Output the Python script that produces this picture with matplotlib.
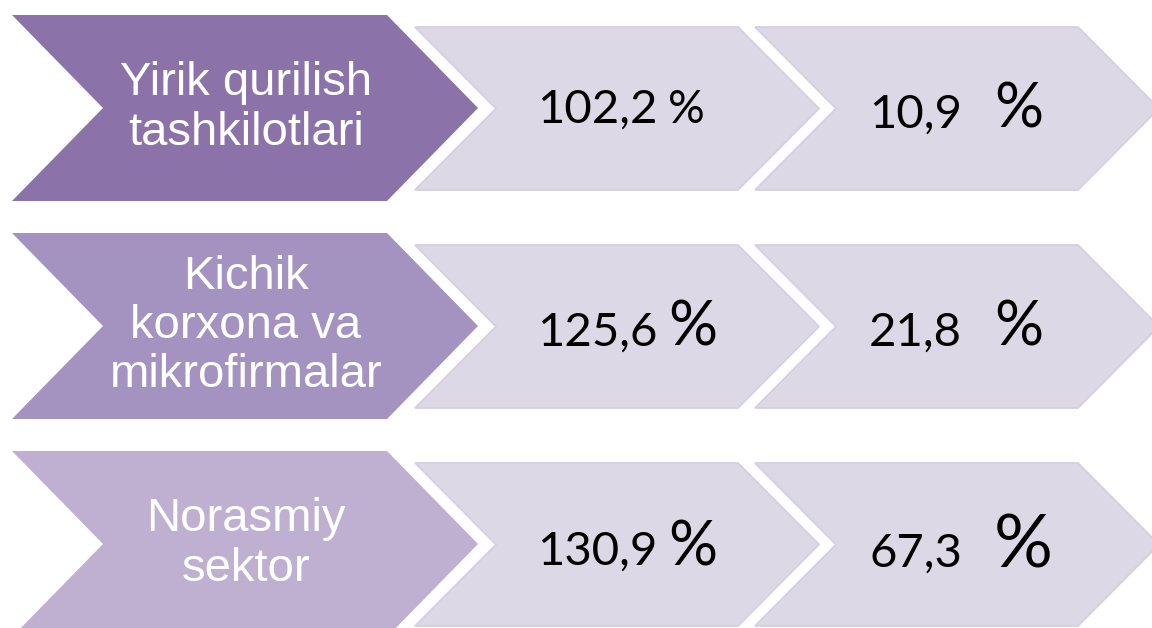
'''
Chevron diagram: construction growth indices by sector
'''
import matplotlib
matplotlib.use("Agg")
import matplotlib.pyplot as plt
from matplotlib.patches import Polygon

# ---- data ----
categories = ["Yirik qurilish\ntashkilotlari",
              "Kichik\nkorxona va\nmikrofirmalar",
              "Norasmiy\nsektor"]
growth_index = [102.2, 125.6, 130.9]
share = [10.9, 21.8, 67.3]

# ---- style ----
head_colors = ["#8B73AA", "#A492C0", "#BFB0D2"]
light_fill = "#DCD8E6"
light_edge = "#D5D0E1"
pct_size = [[33, 44], [44, 44], [44, 53]]   # size of the % sign in each cell
num_size = 34


def chevron(x0, top, w, h, d):
    mid = top + h / 2
    return [(x0, top), (x0 + w, top), (x0 + w + d, mid),
            (x0 + w, top + h), (x0, top + h), (x0 + d, mid)]


def fmt(v):
    return ("%.1f" % v).replace(".", ",")


def main():
    fig = plt.figure(figsize=(11.52, 6.28), dpi=100)
    ax = fig.add_axes([0, 0, 1, 1])
    ax.set_xlim(0, 1152)
    ax.set_ylim(628, 0)
    ax.axis("off")

    row_step = 218
    num_right = [658, 962]
    pct_left = [668, 994]
    baseline_off = [[108, 113], [113, 113], [114, 116]]

    for i, label in enumerate(categories):
        top = 15 + row_step * i
        ax.add_patch(Polygon(chevron(12, top, 375, 186, 91), closed=True,
                             facecolor=head_colors[i], edgecolor="none"))
        ax.text(246, top + 93, label, ha="center", va="center", color="white",
                fontsize=34, family="Liberation Sans", linespacing=1.16)

        vals = [growth_index[i], share[i]]
        for j in range(2):
            x0 = 415 + 340 * j
            ax.add_patch(Polygon(chevron(x0, top + 12, 323, 163, 81), closed=True,
                                 facecolor=light_fill, edgecolor=light_edge, lw=1.3))
            yb = top + baseline_off[i][j]
            ax.text(num_right[j], yb, fmt(vals[j]), ha="right", va="baseline",
                    fontsize=num_size, family="Lato", color="black")
            ax.text(pct_left[j], yb, "%", ha="left", va="baseline",
                    fontsize=pct_size[i][j], family="Lato", color="black")

    plt.savefig("out.png", dpi=100)


if __name__ == "__main__":
    main()
